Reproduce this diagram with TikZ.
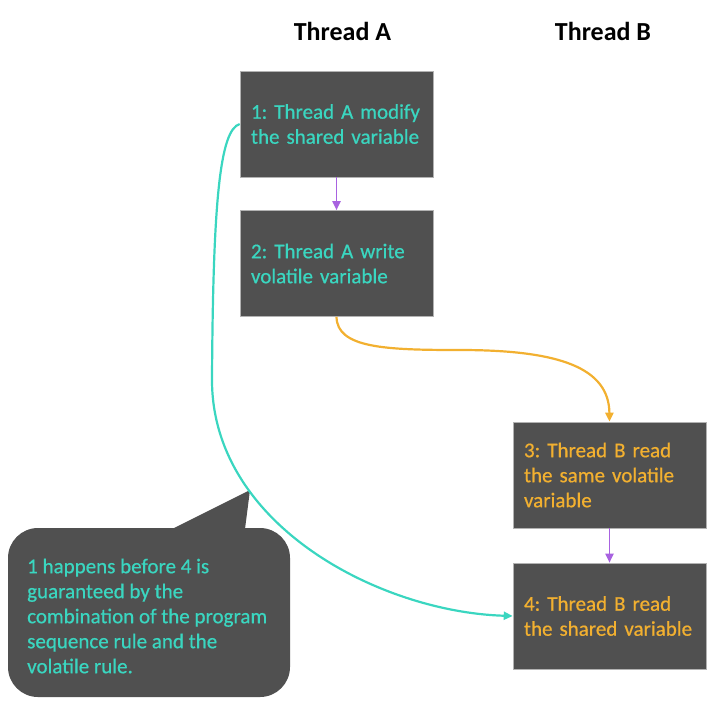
\documentclass[tikz,border=0pt]{standalone}
\usepackage{fontspec}
\setmainfont{Carlito}
\newfontfamily\labelfont{Carlito}[FakeBold=0.6]
\usepackage{tikz}
\usetikzlibrary{arrows.meta}
\definecolor{boxgray}{RGB}{80,80,80}
\definecolor{teal}{RGB}{58,214,192}
\definecolor{amber}{RGB}{242,176,48}
\definecolor{violet}{RGB}{168,98,224}
\frenchspacing
\begin{document}
\begin{tikzpicture}[x=1pt,y=-1pt,
    stepbox/.style={fill=boxgray,draw=gray!60,line width=0.6pt,minimum height=106pt,text width=171pt,inner xsep=11pt,inner ysep=0pt,align=left,font=\labelfont\fontsize{21}{25}\selectfont},
    title/.style={font=\fontsize{26}{30}\selectfont\bfseries},
    tip/.style={-{Triangle[length=9pt,width=8pt]}},
    order/.style={tip,violet,line width=1.8pt}]
    \useasboundingbox (0,0) rectangle (725,702);
    \node[title] (ta) at (342.5,31) {Thread A};
    \node[title] (tb) at (603,31) {Thread B};
    \node[stepbox,text=teal] (s1) at (336.5,124) {1: Thread A modify\\the shared variable};
    \node[stepbox,text=teal] (s2) at (336.5,263.5) {2: Thread A write\\volatile variable};
    \node[stepbox,text=amber] (s3) at (609.5,475) {3: Thread B read\\the same volatile\\variable};
    \node[stepbox,text=amber] (s4) at (609.5,616) {4: Thread B read\\the shared variable};
    \draw[order] (s1) -- (s2);
    \draw[order] (s3) -- (s4);
    \draw[tip,amber,line width=2.2pt] (s2.south) .. controls (337,348) and (385,350) .. (460,350)
        .. controls (560,350) and (609,368) .. (s3.north);
    \fill[boxgray,rounded corners=30pt] (8,528) rectangle (290,697);
    \fill[boxgray] (172,529) -- (250,490) -- (245,529) -- cycle;
    \node[anchor=west,text=teal,align=left,inner sep=0pt,font=\labelfont\fontsize{21}{25}\selectfont] (note) at (27,616)
        {1 happens before 4 is\\guaranteed by the\\combination of the program\\sequence rule and the\\volatile rule.};
    \draw[tip,teal,line width=2.2pt] (s1.west) .. controls (220,130) and (213,200) .. (212,380)
        .. controls (212,525) and (380,612) .. (s4.west);
\end{tikzpicture}
\end{document}
